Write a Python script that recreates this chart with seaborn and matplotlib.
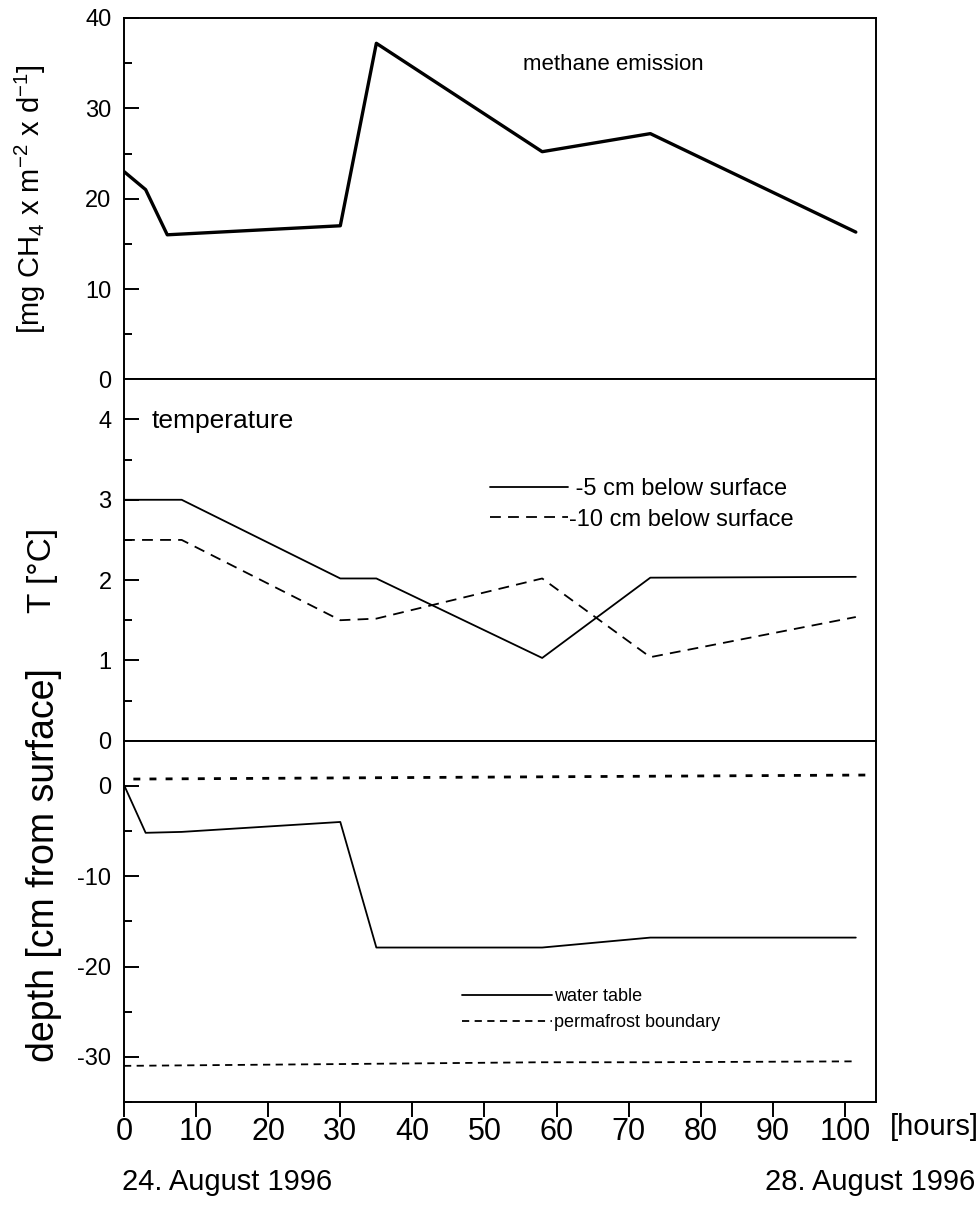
import numpy as np
import pandas as pd
import matplotlib
matplotlib.use("Agg")
import matplotlib.pyplot as plt
import seaborn as sns
from matplotlib.ticker import FixedLocator

# ---------------- data ----------------
hours_ch4 = [0, 3, 6, 30, 35, 58, 73, 101.5]
ch4_emission = [23.0, 21.0, 16.0, 17.0, 37.2, 25.2, 27.2, 16.3]

hours_temp = [0, 8, 30, 35, 58, 73, 101.5]
temp_5cm = [3.0, 3.0, 2.02, 2.02, 1.03, 2.03, 2.04]
temp_10cm = [2.5, 2.5, 1.5, 1.52, 2.02, 1.04, 1.54]

hours_wt = [0, 3, 8, 30, 35, 58, 73, 101.5]
water_table = [0.1, -5.2, -5.1, -4.0, -17.9, -17.9, -16.8, -16.8]

hours_pf = [0, 30, 58, 73, 101.5]
permafrost = [-31.0, -30.8, -30.6, -30.6, -30.5]

hours_surface = [1.3, 104.0]
surface = [0.75, 1.2]

x_ticks = [0, 10, 20, 30, 40, 50, 60, 70, 80, 90, 100]

# ---------------- style ----------------
sns.set_style("ticks")
plt.rcParams["font.family"] = ["Liberation Sans", "DejaVu Sans"]
plt.rcParams["mathtext.default"] = "regular"
plt.rcParams["axes.unicode_minus"] = False
for key in ("text.color", "axes.labelcolor", "xtick.color", "ytick.color", "axes.edgecolor"):
    plt.rcParams[key] = "black"

fig = plt.figure(figsize=(9.8, 12.1), dpi=100)
left, right, top, bottom = 124 / 980, 876 / 980, 1 - 18 / 1210, 1 - 1102 / 1210
gs = fig.add_gridspec(3, 1, left=left, right=right, top=top, bottom=bottom, hspace=0)
ax1 = fig.add_subplot(gs[0])
ax2 = fig.add_subplot(gs[1], sharex=ax1)
ax3 = fig.add_subplot(gs[2], sharex=ax1)

k = "k"
# methane
sns.lineplot(x=hours_ch4, y=ch4_emission, ax=ax1, color=k, lw=2.4, sort=False)
ax1.set_ylim(0, 40)
ax1.text(0.53, 0.87, "methane emission", transform=ax1.transAxes, fontsize=16, ha="left", va="center")

# temperature
sns.lineplot(x=hours_temp, y=temp_5cm, ax=ax2, color=k, lw=1.3, sort=False, label=" -5 cm below surface")
sns.lineplot(x=hours_temp, y=temp_10cm, ax=ax2, color=k, lw=1.3, sort=False, label="-10 cm below surface",
             linestyle=(0, (6, 4)))
ax2.set_ylim(0, 4.5)
ax2.text(0.037, 0.885, "temperature", transform=ax2.transAxes, fontsize=19, ha="left", va="center")
leg2 = ax2.legend(loc="upper left", bbox_to_anchor=(0.458, 0.785), frameon=False, fontsize=17,
                  handlelength=3.3, handletextpad=0.05, labelspacing=0.35)

# depth
sns.lineplot(x=hours_surface, y=surface, ax=ax3, color=k, lw=2.0, sort=False, linestyle=(0, (2.5, 3.3)))
sns.lineplot(x=hours_wt, y=water_table, ax=ax3, color=k, lw=1.3, sort=False, label="water table")
sns.lineplot(x=hours_pf, y=permafrost, ax=ax3, color=k, lw=1.3, sort=False, label="permafrost boundary",
             linestyle=(0, (4, 3)))
ax3.set_ylim(-35, 5)
leg3 = ax3.legend(loc="upper left", bbox_to_anchor=(0.428, 0.36), frameon=False, fontsize=13,
                  handlelength=5.0, handletextpad=0.1, labelspacing=0.5)

# axes formatting
ax1.set_xlim(0, 104.3)
for ax in (ax1, ax2, ax3):
    for s in ax.spines.values():
        s.set_visible(True)
        s.set_linewidth(1.4)
        s.set_color("black")
    ax.tick_params(axis="y", which="major", direction="in", length=11, width=1.4, labelsize=17, pad=9)
    ax.tick_params(axis="y", which="minor", direction="in", length=6, width=1.4)
    ax.set_xlabel("")

ax1.yaxis.set_major_locator(FixedLocator([0, 10, 20, 30, 40]))
ax1.yaxis.set_minor_locator(FixedLocator([5, 15, 25, 35]))
ax2.yaxis.set_major_locator(FixedLocator([0, 1, 2, 3, 4]))
ax2.yaxis.set_minor_locator(FixedLocator([0.5, 1.5, 2.5, 3.5]))
ax3.yaxis.set_major_locator(FixedLocator([-30, -20, -10, 0]))
ax3.yaxis.set_minor_locator(FixedLocator([-35, -25, -15, -5]))

for ax in (ax1, ax2):
    ax.tick_params(axis="x", which="both", bottom=False, labelbottom=False)
ax3.xaxis.set_major_locator(FixedLocator(x_ticks))
ax3.tick_params(axis="x", which="major", direction="out", length=11, width=1.4, labelsize=22, pad=0)

ax1.set_ylabel("[mg CH$_4$ x m$^{-2}$ x d$^{-1}$]", fontsize=21)
ax2.set_ylabel("T [°C]", fontsize=24)
ax3.set_ylabel("depth [cm from surface]", fontsize=27)
ax1.yaxis.set_label_coords(-0.101, 0.5)
ax2.yaxis.set_label_coords(-0.088, 0.47)
ax3.yaxis.set_label_coords(-0.083, 0.655)

fig.text(890 / 980, 1 - 1127 / 1210, "[hours]", fontsize=21, ha="left", va="center")
fig.text(122 / 980, 1 - 1182 / 1210, "24. August 1996", fontsize=21, ha="left", va="center")
fig.text(975 / 980, 1 - 1182 / 1210, "28. August 1996", fontsize=21, ha="right", va="center")

fig.savefig("out.png", dpi=100)
